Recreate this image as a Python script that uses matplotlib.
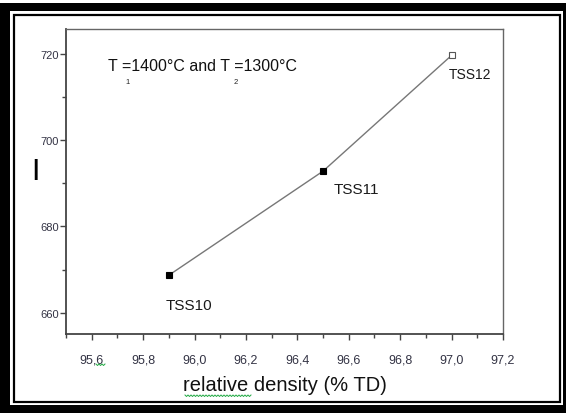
import matplotlib
matplotlib.use("Agg")
import matplotlib.pyplot as plt
from matplotlib.patches import Rectangle
from matplotlib.lines import Line2D
from matplotlib.ticker import MultipleLocator
import numpy as np

plt.rcParams['font.family'] = ['Liberation Sans', 'DejaVu Sans']

# data
samples = ["TSS10", "TSS11", "TSS12"]
density = [95.9, 96.5, 97.0]
value = [668.7, 692.8, 719.6]
filled = [True, True, False]

x_ticks = [95.6, 95.8, 96.0, 96.2, 96.4, 96.6, 96.8, 97.0, 97.2]
x_tick_labels = ["95,6", "95,8", "96,0", "96,2", "96,4", "96,6", "96,8", "97,0", "97,2"]
y_ticks = [660, 680, 700, 720]
y_tick_labels = ["660", "680", "700", "720"]

W, H = 566, 414
fig = plt.figure(figsize=(W / 100, H / 100), dpi=100)
fig.patch.set_facecolor("white")

# frame borders (figure pixel coords)
def frac_rect(x0, y0, x1, y1, **kw):
    return Rectangle((x0 / W, 1 - y1 / H), (x1 - x0) / W, (y1 - y0) / H,
                     transform=fig.transFigure, **kw)

fig.patches.append(frac_rect(0, 4, W, H, facecolor="black", edgecolor="none", zorder=-3))
fig.patches.append(frac_rect(10, 12, 563, 406, facecolor="white", edgecolor="none", zorder=-2))
fig.patches.append(frac_rect(14, 16, 560, 403, facecolor="none", edgecolor="black", linewidth=1.6, zorder=-1))

# axes
l, r, t, b = 66, 503, 30, 335
ax = fig.add_axes([l / W, 1 - b / H, (r - l) / W, (b - t) / H])
ax.set_facecolor("none")
ax.set_zorder(1)
ax.set_xlim(95.5, 97.2)
ax.set_ylim(655.1, 725.7)

ax.plot(density, value, color="#777777", linewidth=1.0, zorder=2)
for x, y, f in zip(density, value, filled):
    ax.plot([x], [y], marker="s", markersize=5,
            markerfacecolor="black" if f else "white",
            markeredgecolor="black" if f else "#555555",
            markeredgewidth=0.8, linestyle="none", zorder=3)

# sample labels
offsets = [(14.4, -21.6), (23.8, -13.0), (13.6, -13.3)]
sizes = [11, 11, 10]
for s, x, y, (dx, dy), fs in zip(samples, density, value, offsets, sizes):
    ax.annotate(s, (x, y), xytext=(dx, dy), textcoords="offset points",
                ha="center", va="center", fontsize=fs, color="#1a1a1a")

# condition text with subscripts
ax.text(0.096, 0.88, "T =1400°C and T =1300°C", transform=ax.transAxes,
        fontsize=11.5, color="#111111", va="center", ha="left")
ax.text(0.141, 0.828, "1", transform=ax.transAxes, fontsize=5.5, color="#222222",
        va="center", ha="center")
ax.text(0.389, 0.828, "2", transform=ax.transAxes, fontsize=5.5, color="#222222",
        va="center", ha="center")

ax.set_xticks(x_ticks)
ax.set_xticklabels(x_tick_labels)
ax.set_yticks(y_ticks)
ax.set_yticklabels(y_tick_labels)
ax.xaxis.set_minor_locator(MultipleLocator(0.1))
ax.yaxis.set_minor_locator(MultipleLocator(10))

ax.tick_params(axis="both", which="major", direction="out", length=4, width=1,
               color="#444444", labelcolor="#333344")
ax.tick_params(axis="both", which="minor", direction="out", length=3, width=1,
               color="#444444")
ax.tick_params(axis="x", which="major", pad=10, labelsize=9)
ax.tick_params(axis="y", which="major", pad=0.5, length=4.5, labelsize=8)

for side in ["left", "bottom"]:
    ax.spines[side].set_color("#444444")
    ax.spines[side].set_linewidth(1.3)
for side in ["top", "right"]:
    ax.spines[side].set_color("#666666")
    ax.spines[side].set_linewidth(1.0)

ax.set_xlabel("relative density (% TD)", fontsize=14.5, color="#111111", labelpad=7)

# garbled y-axis label shown as a short bar
fig.text(35 / W, 1 - 169 / H, "|", fontsize=16, fontweight="bold", color="black",
         ha="center", va="center")

# spell-check wavy underlines
def wavy(x0, x1, y, **kw):
    xs = np.arange(x0, x1 + 0.1, 1.5)
    ys = y + np.where(np.arange(len(xs)) % 2 == 0, 0.0, 1.5)
    fig.add_artist(Line2D(xs / W, 1 - ys / H, transform=fig.transFigure, **kw))

wavy(185, 252, 396, color="#22aa44", linewidth=0.7)
wavy(96, 105, 365, color="#22aa44", linewidth=0.7)

fig.savefig("out.png", dpi=100)
